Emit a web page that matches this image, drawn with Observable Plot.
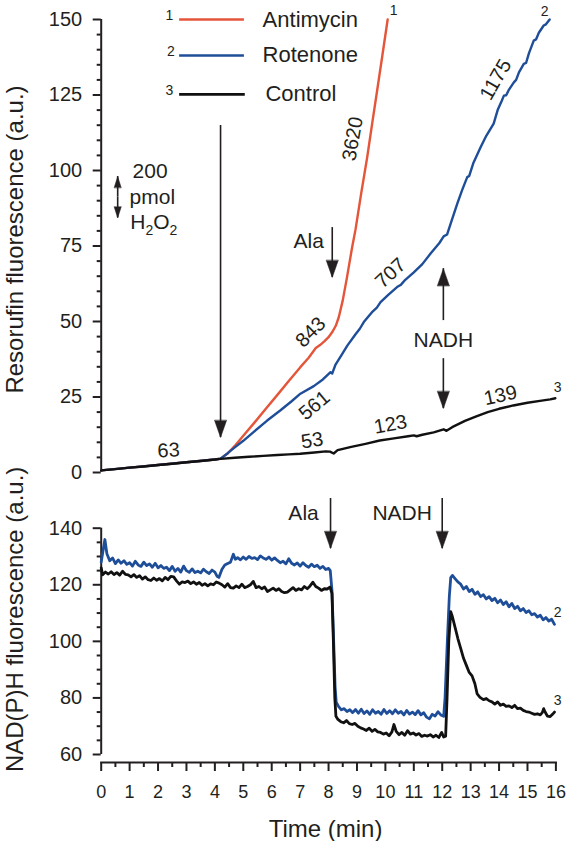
<!DOCTYPE html>
<html><head><meta charset="utf-8">
<script src="https://cdn.jsdelivr.net/npm/d3@7"></script>
<script src="https://cdn.jsdelivr.net/npm/@observablehq/plot@0.6"></script>
<style>
html,body{margin:0;padding:0;background:#fff;}
#chart{position:relative;width:567px;height:841px;overflow:hidden;background:#fff;}
#chart svg{position:absolute;left:0;overflow:visible;}
</style></head><body><div id="chart"></div>
<script>
// ---------- DATA (time in min, fluorescence in a.u.) ----------
const antimycinTop = [[0,0.7],[1,1.6],[2,2.5],[3,3.4],[4,4.3],[4.2,4.6],[4.45,6.3],[4.7,8.8],[5.0,12.2],[5.4,16.6],[5.8,21.2],[6.2,25.7],[6.6,30.3],[7.0,34.8],[7.3,38.0],[7.55,41.2],[7.7,42.2],[7.85,43.4],[8.0,44.8],[8.13,46.5],[8.25,48.5],[8.36,51.4],[8.5,57.0],[8.65,64.7],[8.83,74.6],[8.95,80.5],[9.15,92.5],[9.36,104.4],[9.55,116.5],[9.71,126.5],[9.9,138.5],[10.08,150]];
const rotenoneTop = [[0,0.7],[1,1.6],[2,2.5],[3,3.4],[4,4.3],[4.2,4.6],[4.45,6.4],[4.7,8.3],[5.0,10.5],[5.4,13.7],[5.84,17.2],[6.31,20.6],[6.7,23.6],[7.01,26.1],[7.48,28.6],[7.8,30.8],[8.07,33.2],[8.13,32.8],[8.24,35.6],[8.45,38.8],[8.66,42.0],[8.95,45.8],[9.1,47.6],[9.24,49.8],[9.55,53.3],[9.7,54.6],[9.83,56.4],[10.1,58.8],[10.41,61.4],[10.55,62.2],[10.7,63.8],[11.0,66.3],[11.3,69.0],[11.59,72.5],[11.9,76.0],[12.05,78.2],[12.17,78.8],[12.3,82.5],[12.53,89.0],[12.7,93.5],[12.88,97.8],[12.95,98.2],[13.1,102.6],[13.35,107.7],[13.55,111.5],[13.81,115.5],[13.95,120.0],[14.1,123.2],[14.17,124.8],[14.25,124.9],[14.35,126.8],[14.52,129.2],[14.6,130.0],[14.7,132.5],[14.87,135.3],[14.95,135.6],[15.05,138.8],[15.22,143.0],[15.3,143.4],[15.4,145.6],[15.57,148.0],[15.65,148.4],[15.78,150.0]];
const controlTop = [[0,0.7],[0.5,1.1],[1,1.6],[1.5,2.0],[2,2.5],[2.5,2.9],[3,3.4],[3.5,3.8],[4,4.3],[4.2,4.5],[4.7,4.9],[5.2,5.2],[5.7,5.5],[6.2,5.8],[6.6,6.0],[7,6.2],[7.5,6.6],[7.9,7.0],[8.05,6.9],[8.18,6.3],[8.32,7.4],[8.8,8.5],[9.3,9.5],[9.8,10.6],[10.3,11.3],[10.8,12.0],[11.0,12.3],[11.1,12.0],[11.3,12.5],[11.7,13.3],[12.05,14.3],[12.15,13.8],[12.35,15.0],[12.8,17.1],[13.2,18.6],[13.6,20.0],[14.0,21.1],[14.5,22.2],[15.0,23.1],[15.5,23.8],[15.8,24.2],[15.98,24.6]];

const rotenoneBottom = [[0,128],[0.08,133],[0.13,136],[0.2,131],[0.3,128.5],[0.4,129.5],[0.5,127.5],[0.6,128.8],[0.7,127.6],[0.8,128.5],[0.9,127.2],[1.0,127.8],[1.1,126.6],[1.2,128.3],[1.3,127.0],[1.4,126.5],[1.5,128.0],[1.6,126.8],[1.7,127.4],[1.8,126.2],[1.9,127.6],[2.0,126.0],[2.1,126.8],[2.2,125.8],[2.3,126.2],[2.4,125.0],[2.5,126.5],[2.6,124.8],[2.7,125.8],[2.8,124.5],[2.9,126.6],[3.0,125.0],[3.1,124.4],[3.2,125.6],[3.3,124.3],[3.4,124.8],[3.5,124.2],[3.6,125.5],[3.7,124.6],[3.8,124.0],[3.9,125.2],[4.0,124.5],[4.08,123.0],[4.14,122.6],[4.25,125.5],[4.35,127.0],[4.45,127.5],[4.55,128.0],[4.65,130.8],[4.72,129.0],[4.8,129.6],[4.9,128.8],[5.0,129.8],[5.1,129.0],[5.2,130.0],[5.3,129.3],[5.4,129.6],[5.5,128.9],[5.6,130.2],[5.7,129.5],[5.8,129.0],[5.9,129.8],[6.0,128.7],[6.1,129.5],[6.2,128.6],[6.3,127.8],[6.4,128.3],[6.5,127.4],[6.6,129.2],[6.7,127.6],[6.8,127.0],[6.9,127.7],[7.0,126.6],[7.1,127.8],[7.2,126.8],[7.3,126.2],[7.4,127.3],[7.5,126.4],[7.6,126.9],[7.7,125.8],[7.8,126.5],[7.9,125.4],[8.0,125.8],[8.06,125.0],[8.12,118],[8.18,100],[8.23,84],[8.27,78.5],[8.35,77],[8.45,75.8],[8.55,76.2],[8.65,75.2],[8.75,75.8],[8.85,74.8],[8.95,75.9],[9.05,74.6],[9.15,76.0],[9.25,74.5],[9.35,75.4],[9.45,74.2],[9.55,75.8],[9.65,74.6],[9.75,75.2],[9.85,74.2],[9.95,75.9],[10.05,74.5],[10.15,75.5],[10.25,74.4],[10.35,75.8],[10.45,74.6],[10.55,75.2],[10.65,74.0],[10.75,75.6],[10.85,74.3],[10.95,75.0],[11.05,74.1],[11.15,75.5],[11.25,74.0],[11.35,74.8],[11.45,73.2],[11.55,72.6],[11.65,74.2],[11.75,73.6],[11.85,75.1],[11.95,74.0],[12.05,73.5],[12.1,80],[12.18,100],[12.25,116],[12.3,122.5],[12.36,123.3],[12.45,122.2],[12.55,121.0],[12.65,120.2],[12.75,118.5],[12.85,119.4],[12.95,117.6],[13.05,118.4],[13.15,116.6],[13.25,117.5],[13.35,115.8],[13.45,116.5],[13.55,115.0],[13.65,115.8],[13.75,114.4],[13.85,115.2],[13.95,113.6],[14.05,114.6],[14.15,113.0],[14.25,114.0],[14.35,112.2],[14.45,113.4],[14.55,111.6],[14.65,112.4],[14.75,110.8],[14.85,111.6],[14.95,110.2],[15.05,110.8],[15.15,109.4],[15.25,109.8],[15.35,108.6],[15.45,109.2],[15.55,107.6],[15.65,108.4],[15.75,107.2],[15.85,107.8],[15.95,106.0]];
const controlBottom = [[0,126],[0.05,123.5],[0.15,124.5],[0.25,123.8],[0.35,124.6],[0.45,123.6],[0.55,124.3],[0.65,123.4],[0.75,124.8],[0.85,123.7],[0.95,123.5],[1.05,122.8],[1.15,123.6],[1.25,122.6],[1.35,123.2],[1.45,122.0],[1.55,122.8],[1.65,121.8],[1.75,121.5],[1.85,122.4],[1.95,121.6],[2.05,122.2],[2.15,121.4],[2.25,122.6],[2.35,121.8],[2.45,123.0],[2.55,122.8],[2.65,121.4],[2.75,120.2],[2.85,121.0],[2.95,120.8],[3.05,121.3],[3.15,120.4],[3.25,121.0],[3.35,120.2],[3.45,120.8],[3.55,119.8],[3.65,120.4],[3.75,119.6],[3.85,120.3],[3.95,120.0],[4.05,121.0],[4.15,120.6],[4.25,120.0],[4.35,119.2],[4.45,120.4],[4.55,119.0],[4.65,118.8],[4.75,119.6],[4.85,119.0],[4.95,120.2],[5.05,119.0],[5.15,119.4],[5.25,120.0],[5.35,121.2],[5.45,119.0],[5.55,119.4],[5.65,118.6],[5.75,119.2],[5.85,117.6],[5.95,118.2],[6.05,118.8],[6.15,118.0],[6.25,118.6],[6.35,117.6],[6.45,117.2],[6.55,117.4],[6.65,118.2],[6.75,119.0],[6.85,118.0],[6.95,118.6],[7.05,118.2],[7.15,119.4],[7.25,118.6],[7.35,119.6],[7.45,120.9],[7.55,119.4],[7.65,118.8],[7.75,118.0],[7.85,118.6],[7.95,118.5],[8.05,119.2],[8.12,117],[8.17,100],[8.22,80],[8.26,73.5],[8.33,72.4],[8.43,71.6],[8.53,71.2],[8.63,72.0],[8.73,70.9],[8.83,70.6],[8.93,71.0],[9.03,70.0],[9.13,69.4],[9.23,69.0],[9.33,68.5],[9.43,69.3],[9.53,68.2],[9.63,68.9],[9.73,68.0],[9.83,67.8],[9.93,67.2],[10.03,67.6],[10.13,66.6],[10.23,68.0],[10.3,70.6],[10.38,68.2],[10.48,67.0],[10.58,67.8],[10.68,66.8],[10.78,68.4],[10.88,67.2],[10.98,67.6],[11.08,66.9],[11.18,67.4],[11.28,66.4],[11.38,66.8],[11.48,66.5],[11.58,67.0],[11.68,66.2],[11.78,66.8],[11.88,66.0],[11.98,67.8],[12.05,66.2],[12.12,66.5],[12.17,80],[12.23,100],[12.3,110.5],[12.35,109],[12.45,105],[12.55,101],[12.65,97.5],[12.75,94],[12.85,91.5],[12.95,89],[13.05,87.8],[13.15,85],[13.23,81.4],[13.33,80.2],[13.45,79.4],[13.55,79.8],[13.65,79.0],[13.75,78.6],[13.85,77.8],[13.95,78.6],[14.05,77.4],[14.15,77.8],[14.25,77.0],[14.35,77.2],[14.45,76.6],[14.55,77.4],[14.65,76.2],[14.75,76.4],[14.85,75.6],[14.95,75.2],[15.05,75.0],[15.15,74.6],[15.25,74.2],[15.35,74.4],[15.45,74.0],[15.52,74.8],[15.57,76.2],[15.62,75.0],[15.7,73.6],[15.8,73.4],[15.88,74.2],[15.95,75.0]];

// tick values
const xMajorTicks = [0,1,2,3,4,5,6,7,8,9,10,11,12,13,14,15,16];
const xMinorTicks = [0.5,1.5,2.5,3.5,4.5,5.5,6.5,7.5,8.5,9.5,10.5,11.5,12.5,13.5,14.5,15.5];
const topYMajorTicks = [0,25,50,75,100,125,150];
const topYMinorTicks = [5,10,15,20,30,35,40,45,55,60,65,70,80,85,90,95,105,110,115,120,130,135,140,145];
const botYMajorTicks = [60,80,100,120,140];
const botYMinorTicks = [65,70,75,85,90,95,105,110,115,125,130,135];

// legend
const legendNames = ["Antimycin","Rotenone","Control"];
const legendNumbers = ["1","2","3"];

// annotations (placed in data units of each panel)
const topRateLabels = [
  {text:"63", x:2.37, y:7.3, angle:-3},
  {text:"843", x:7.37, y:46.5, angle:-45},
  {text:"3620", x:8.85, y:110.5, angle:-80},
  {text:"561", x:7.5, y:22.2, angle:-40},
  {text:"707", x:10.18, y:66.0, angle:-43},
  {text:"1175", x:13.88, y:130.1, angle:-60},
  {text:"53", x:7.42, y:10.6, angle:-8},
  {text:"123", x:10.18, y:15.9, angle:-10},
  {text:"139", x:14.05, y:25.5, angle:-12}
];
const topArrows = [
  {x:4.2, from:114.9, to:11.6},
  {x:8.13, from:81.1, to:64.6},
  {x:12.04, from:50.3, to:67.5},
  {x:12.04, from:37.7, to:21.2}
];
const scaleArrows = [
  {x:0.58, from:91.2, to:98.0},
  {x:0.58, from:91.2, to:84.3}
];
const topWords = [
  {text:"Ala", x:7.3, y:76.5},
  {text:"NADH", x:12.04, y:43.7},
  {text:"200", x:1.72, y:99.7},
  {text:"pmol", x:1.8, y:91.0},
  {text:"H2O2", x:1.85, y:82.8}
];
const topCurveNumbers = [
  {text:"1", x:10.29, y:153},
  {text:"2", x:15.6, y:152.6},
  {text:"3", x:16.06, y:28.1}
];
const botArrows = [
  {x:8.07, from:150.5, to:132.8},
  {x:12.0, from:150.5, to:132.8}
];
const botWords = [
  {text:"Ala", x:7.12, y:145.2},
  {text:"NADH", x:10.59, y:145.2}
];
const botCurveNumbers = [
  {text:"2", x:16.06, y:110.2},
  {text:"3", x:16.06, y:79.1}
];
const legendRows = [
  {x1:2.76, x2:5.04, y:150.0, numX:2.4, numY:151.2, textX:5.68, textY:150.0},
  {x1:2.76, x2:5.04, y:138.1, numX:2.45, numY:139.4, textX:5.68, textY:138.4},
  {x1:2.76, x2:5.07, y:125.2, numX:2.4, numY:126.6, textX:5.78, textY:125.3}
].map((d,i) => ({...d, name: legendNames[i], num: legendNumbers[i]}));

// ---------- STYLE ----------
const ink = "#231f20";
const colors = {Antimycin:"#e4553a", Rotenone:"#1f4e99", Control:"#111111"};
const font = "'Liberation Sans', Arial, Helvetica, sans-serif";
const W = 567, ML = 100.7, MR = 11.6;
const baseStyle = {fontFamily: font, fontSize: "20px", color: ink, background: "transparent", overflow: "visible"};

const headShape = {
  draw(context, l, r) {
    context.moveTo(-r, 0);
    context.lineTo(0, -l);
    context.lineTo(r, 0);
    context.closePath();
  }
};
function arrowMarks(data, len, rad, sw) {
  return [
    Plot.ruleX(data, {x: "x", y1: "from", y2: "to", stroke: ink, strokeWidth: sw}),
    Plot.vector(data, {x: "x", y: "to", rotate: d => d.to > d.from ? 0 : 180, length: len, r: rad,
      anchor: "end", shape: headShape, fill: ink, stroke: ink, strokeWidth: 0.5})
  ];
}
const toRows = pts => pts.map(([x, y]) => ({x, y}));

// ---------- TOP PANEL ----------
const topPlot = Plot.plot({
  width: W, height: 490,
  marginLeft: ML, marginRight: MR, marginTop: 19, marginBottom: 18,
  x: {domain: [0, 16], axis: null},
  y: {domain: [0, 150]},
  style: baseStyle,
  marks: [
    Plot.ruleX([0], {y1: topYMajorTicks[0], y2: topYMajorTicks[topYMajorTicks.length - 1], stroke: ink, strokeWidth: 2}),
    Plot.axisY(topYMinorTicks, {tickSize: 4, fill: "none", stroke: ink, strokeWidth: 2, label: null}),
    Plot.axisY(topYMajorTicks, {tickSize: 8, tickPadding: 11, fontSize: 20, stroke: ink, fill: ink, strokeWidth: 2, label: null}),
    Plot.line(toRows(antimycinTop), {x: "x", y: "y", stroke: colors.Antimycin, strokeWidth: 2.4}),
    Plot.line(toRows(rotenoneTop), {x: "x", y: "y", stroke: colors.Rotenone, strokeWidth: 2.4}),
    Plot.line(toRows(controlTop), {x: "x", y: "y", stroke: colors.Control, strokeWidth: 2.4}),
    ...legendRows.map(d => Plot.ruleY([d], {y: "y", x1: "x1", x2: "x2", stroke: colors[d.name], strokeWidth: 2.6})),
    Plot.text(legendRows, {x: "numX", y: "numY", text: "num", fontSize: 14, fill: ink, lineAnchor: "middle"}),
    Plot.text(legendRows, {x: "textX", y: "textY", text: "name", fontSize: 22, fill: ink, textAnchor: "start", lineAnchor: "middle"}),
    ...arrowMarks(topArrows, 17, 6, 1.6),
    ...arrowMarks(scaleArrows, 11, 3.5, 1.6),
    Plot.text(topRateLabels, {x: "x", y: "y", text: "text", rotate: "angle", fontSize: 20, fill: ink, lineAnchor: "middle"}),
    Plot.text(topWords, {x: "x", y: "y", text: "text", fontSize: 21, fill: ink, lineAnchor: "middle"}),
    Plot.text(topCurveNumbers, {x: "x", y: "y", text: "text", fontSize: 14, fill: ink, lineAnchor: "middle"}),
    Plot.text(["Resorufin fluorescence (a.u.)"], {frameAnchor: "left", dx: -86, dy: -6.5, rotate: -90, fontSize: 24, fill: ink, textAnchor: "middle", lineAnchor: "middle"})
  ]
});

// ---------- BOTTOM PANEL ----------
const botPlot = Plot.plot({
  width: W, height: 351,
  marginLeft: ML, marginRight: MR, marginTop: 37.7, marginBottom: 79,
  x: {domain: [0, 16]},
  y: {domain: [60, 140], range: [264, 37.7]},
  style: baseStyle,
  marks: [
    Plot.ruleX([0], {y1: botYMajorTicks[0], y2: botYMajorTicks[botYMajorTicks.length - 1], stroke: ink, strokeWidth: 2}),
    Plot.axisY(botYMinorTicks, {tickSize: 4, fill: "none", stroke: ink, strokeWidth: 2, label: null}),
    Plot.axisY(botYMajorTicks, {tickSize: 8, tickPadding: 11, fontSize: 20, stroke: ink, fill: ink, strokeWidth: 2, label: null}),
    Plot.frame({anchor: "bottom", stroke: ink, strokeWidth: 2}),
    Plot.axisX(xMinorTicks, {tickSize: 5, fill: "none", stroke: ink, strokeWidth: 2, label: null}),
    Plot.axisX(xMajorTicks, {tickSize: 9, tickPadding: 14, fontSize: 18, stroke: ink, fill: ink, strokeWidth: 2, label: null}),
    Plot.line(toRows(rotenoneBottom), {x: "x", y: "y", stroke: colors.Rotenone, strokeWidth: 2.8}),
    Plot.line(toRows(controlBottom), {x: "x", y: "y", stroke: colors.Control, strokeWidth: 2.8}),
    ...arrowMarks(botArrows, 17, 6, 1.6),
    Plot.text(botWords, {x: "x", y: "y", text: "text", fontSize: 21, fill: ink, lineAnchor: "middle"}),
    Plot.text(botCurveNumbers, {x: "x", y: "y", text: "text", fontSize: 14, fill: ink, lineAnchor: "middle"}),
    Plot.text(["NAD(P)H fluorescence (a.u.)"], {frameAnchor: "left", dx: -86, dy: -26, rotate: -90, fontSize: 24, fill: ink, textAnchor: "middle", lineAnchor: "middle"}),
    Plot.text(["Time (min)"], {frameAnchor: "bottom", dx: -3, dy: 66.5, fontSize: 24, fill: ink, textAnchor: "middle", lineAnchor: "middle"})
  ]
});

const chart = document.getElementById("chart");
topPlot.style.top = "0px";
botPlot.style.top = "490px";
chart.appendChild(topPlot);
chart.appendChild(botPlot);

// subscripts for H2O2
chart.querySelectorAll("text").forEach(t => {
  if (t.textContent === "H2O2") {
    t.textContent = "";
    const ns = "http://www.w3.org/2000/svg";
    const parts = [["H", 0, null], ["2", 6, 14], ["O", -6, null], ["2", 6, 14]];
    for (const [s, dy, fs] of parts) {
      const sp = document.createElementNS(ns, "tspan");
      sp.textContent = s;
      if (dy) sp.setAttribute("dy", dy);
      if (fs) sp.setAttribute("font-size", fs);
      t.appendChild(sp);
    }
  }
});
</script></body></html>
